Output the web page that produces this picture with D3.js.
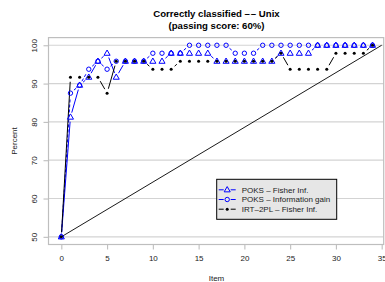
<!DOCTYPE html>
<html>
<head>
<meta charset="utf-8">
<script src="https://cdn.jsdelivr.net/npm/d3@7"></script>
<style>
  body { margin: 0; background: #fff; }
  text { font-family: "Liberation Sans", Arial, Helvetica, sans-serif; }
</style>
</head>
<body>
<svg id="chart" width="385" height="282"></svg>
<script>
// item index (x axis)
var items = [0, 1, 2, 3, 4, 5, 6, 7, 8, 9, 10, 11, 12, 13, 14, 15, 16, 17,
  18, 19, 20, 21, 22, 23, 24, 25, 26, 27, 28, 29, 30, 31, 32, 33, 34];

// percent correctly classified
var poksFisher = [50, 81.25, 89.58, 91.67, 95.83, 97.92, 91.67, 95.83, 95.83, 95.83,
  95.83, 95.83, 97.92, 97.92, 97.92, 97.92, 97.92, 95.83, 95.83, 95.83,
  95.83, 95.83, 95.83, 95.83, 97.92, 97.92, 97.92, 97.92, 100, 100,
  100, 100, 100, 100, 100];
var poksInfoGain = [50, 87.5, 89.58, 93.75, 95.83, 93.75, 95.83, 95.83, 95.83, 95.83,
  97.92, 97.92, 97.92, 97.92, 100, 100, 100, 100, 100, 97.92,
  97.92, 97.92, 100, 100, 100, 100, 100, 100, 100, 100,
  100, 100, 100, 100, 100];
var irtFisher = [50, 91.67, 91.67, 91.67, 91.67, 87.5, 95.83, 95.83, 95.83, 95.83,
  93.75, 93.75, 93.75, 95.83, 95.83, 95.83, 95.83, 95.83, 95.83, 95.83,
  95.83, 95.83, 95.83, 95.83, 97.92, 93.75, 93.75, 93.75, 93.75, 93.75,
  97.92, 97.92, 97.92, 97.92, 100];

// reference diagonal (chance line)
var diagonal = [[0, 50], [35, 100]];

var xTicks = [0, 5, 10, 15, 20, 25, 30, 35];
var yTicks = [50, 60, 70, 80, 90, 100];
var legendLabels = ['POKS \u2013 Fisher Inf.', 'POKS \u2013 Information gain', 'IRT\u20132PL \u2013 Fisher Inf.'];

var svg = d3.select('#chart');

// plot region
var box = { left: 48.5, right: 383.7, top: 37.6, bottom: 244.5 };

var x = d3.scaleLinear().domain([-1.4, 35.22]).range([box.left, box.right]);
var y = d3.scaleLinear().domain([48, 102]).range([box.bottom, box.top]);

// grid
svg.append('g')
  .selectAll('line')
  .data(yTicks)
  .join('line')
  .attr('x1', box.left).attr('x2', box.right)
  .attr('y1', d => y(d)).attr('y2', d => y(d))
  .attr('stroke', '#d3d3d3')
  .attr('stroke-width', 1.2);

// diagonal
svg.append('line')
  .attr('x1', x(diagonal[0][0])).attr('y1', y(diagonal[0][1]))
  .attr('x2', x(diagonal[1][0])).attr('y2', y(diagonal[1][1]))
  .attr('stroke', '#000')
  .attr('stroke-width', 0.9);

// frame
svg.append('rect')
  .attr('x', box.left).attr('y', box.top)
  .attr('width', box.right - box.left).attr('height', box.bottom - box.top)
  .attr('fill', 'none')
  .attr('stroke', '#bebebe')
  .attr('stroke-width', 1.2);

// axes
var xAxis = svg.append('g')
  .attr('transform', 'translate(0,' + box.bottom + ')')
  .call(d3.axisBottom(x).tickValues(xTicks).tickSize(5).tickPadding(6));
var yAxis = svg.append('g')
  .attr('transform', 'translate(' + box.left + ',0)')
  .call(d3.axisLeft(y).tickValues(yTicks).tickSize(5));

[xAxis, yAxis].forEach(function (g) {
  g.select('.domain').remove();
  g.selectAll('.tick line').attr('stroke', '#bebebe').attr('stroke-width', 1.1);
  g.selectAll('.tick text').attr('fill', '#222').style('font-size', '8px');
});
yAxis.selectAll('.tick text')
  .attr('x', null).attr('dy', null)
  .attr('text-anchor', 'middle')
  .attr('transform', 'translate(-12,0) rotate(-90)');

// titles
var t1 = svg.append('text')
  .attr('x', 216.5).attr('y', 17)
  .attr('text-anchor', 'middle')
  .style('font-size', '9.6px').style('font-weight', 'bold');
t1.append('tspan').text('Correctly classified \u2013');
t1.append('tspan').attr('dx', 1).text('\u2013 Unix');
svg.append('text')
  .attr('x', 216.5).attr('y', 28.6)
  .attr('text-anchor', 'middle')
  .style('font-size', '9.6px').style('font-weight', 'bold')
  .text('(passing score: 60%)');
svg.append('text')
  .attr('x', 216.5).attr('y', 281)
  .attr('text-anchor', 'middle')
  .style('font-size', '8px').attr('fill', '#222')
  .text('Item');
svg.append('text')
  .attr('transform', 'translate(17,141) rotate(-90)')
  .attr('text-anchor', 'middle')
  .style('font-size', '8px').attr('fill', '#222')
  .text('Percent');

// R type="b": segments with gaps round the points
function drawSeries(values, color, dash, gap) {
  var pts = values.map((v, i) => [x(items[i]), y(v)]);
  var segs = [];
  for (var i = 1; i < pts.length; i++) {
    var dx = pts[i][0] - pts[i - 1][0], dy = pts[i][1] - pts[i - 1][1];
    var len = Math.sqrt(dx * dx + dy * dy);
    if (len <= 2 * gap) continue;
    var ux = dx / len, uy = dy / len;
    segs.push([pts[i - 1][0] + ux * gap, pts[i - 1][1] + uy * gap,
      pts[i][0] - ux * gap, pts[i][1] - uy * gap]);
  }
  svg.append('g')
    .selectAll('line')
    .data(segs)
    .join('line')
    .attr('x1', d => d[0]).attr('y1', d => d[1])
    .attr('x2', d => d[2]).attr('y2', d => d[3])
    .attr('stroke', color)
    .attr('stroke-width', 1)
    .attr('stroke-dasharray', dash);
  return pts;
}

function triangle(g, cx, cy) {
  g.append('path')
    .attr('d', d3.symbol(d3.symbolTriangle, 16)())
    .attr('transform', 'translate(' + cx + ',' + (cy + 0.3) + ')')
    .attr('fill', 'none').attr('stroke', '#0000ff').attr('stroke-width', 1);
}
function ring(g, cx, cy) {
  g.append('circle').attr('cx', cx).attr('cy', cy).attr('r', 2.2)
    .attr('fill', 'none').attr('stroke', '#0000ff').attr('stroke-width', 1);
}
function dot(g, cx, cy) {
  g.append('circle').attr('cx', cx).attr('cy', cy).attr('r', 1.5).attr('fill', '#000');
}

var ptsTri = drawSeries(poksFisher, '#0000ff', null, 4.6);
var ptsRing = drawSeries(poksInfoGain, '#0000ff', '3,2', 4.6);
var ptsDot = drawSeries(irtFisher, '#000', null, 4.6);

var marks = svg.append('g');
ptsTri.forEach(p => triangle(marks, p[0], p[1]));
ptsRing.forEach(p => ring(marks, p[0], p[1]));
ptsDot.forEach(p => dot(marks, p[0], p[1]));

// legend
var lg = svg.append('g').attr('transform', 'translate(216.7,179.3)');
lg.append('rect')
  .attr('width', 120).attr('height', 40)
  .attr('fill', '#e6e6e6').attr('stroke', '#000').attr('stroke-width', 1);
var styles = [
  { color: '#0000ff', dash: null, mark: triangle },
  { color: '#0000ff', dash: '3,2', mark: ring },
  { color: '#000', dash: null, mark: dot }
];
legendLabels.forEach(function (label, i) {
  var ly = 10.5 + i * 9.7;
  // short line pieces either side of the symbol
  [[2, 7], [14, 19]].forEach(function (s) {
    lg.append('line')
      .attr('x1', s[0]).attr('x2', s[1]).attr('y1', ly).attr('y2', ly)
      .attr('stroke', styles[i].color).attr('stroke-width', 1);
  });
  styles[i].mark(lg, 10.5, ly);
  lg.append('text')
    .attr('x', 25).attr('y', ly + 2.9)
    .style('font-size', '8px').attr('fill', '#222')
    .text(label);
});
</script>
</body>
</html>
